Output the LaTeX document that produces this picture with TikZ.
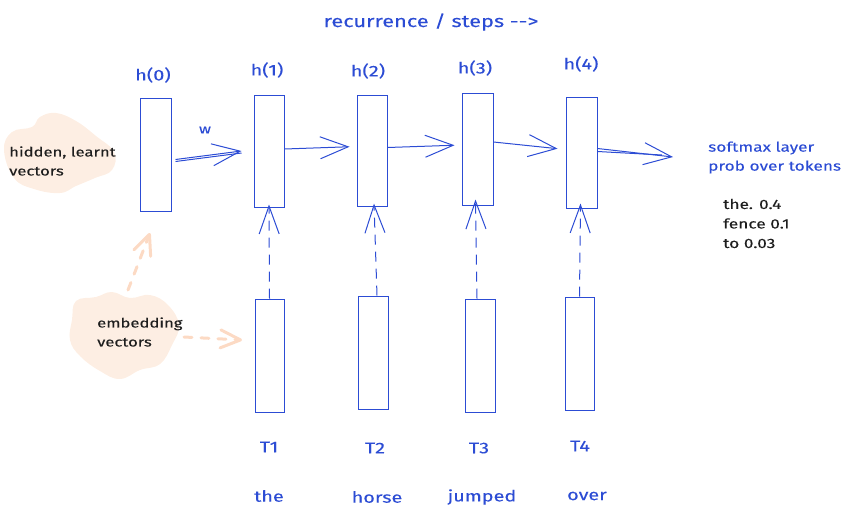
\documentclass[tikz,border=0pt]{standalone}
\usepackage{fontspec}
\setmainfont[FakeStretch=1.28,FakeBold=0.15]{Fira Sans}
\usetikzlibrary{arrows.meta}
\definecolor{sblue}{RGB}{44,76,212}
\definecolor{ink}{RGB}{30,30,30}
\definecolor{peach}{RGB}{253,238,227}
\definecolor{peachline}{RGB}{252,218,196}
\tikzset{
  vecbox/.style={draw=sblue, line width=1pt, minimum width=30pt, minimum height=112pt, inner sep=0pt},
  bluetxt/.style={text=sblue, font=\fontsize{15.5}{18}\selectfont, inner sep=0pt},
  smalltxt/.style={font=\fontsize{13}{19}\selectfont, inner sep=0pt, align=left, anchor=west},
  barb/.style={-{Straight Barb[length=28pt,width=22pt,line width=1pt]}},
  recarrow/.style={draw=sblue, line width=1pt, barb},
  inarrow/.style={draw=sblue, line width=1pt, dash pattern=on 10pt off 7pt, -{Straight Barb[length=28pt,width=20pt,line width=1pt,sep=0pt]}},
  peacharrow/.style={draw=peachline, line width=3pt, line cap=round, dash pattern=on 8pt off 9pt, -{Straight Barb[length=20pt,width=18pt,line width=3pt,round]}},
  blob/.style={fill=peach, draw=none}
}
\begin{document}
\begin{tikzpicture}[x=1pt,y=-1pt]
\useasboundingbox (0,0) rectangle (849,520);
% blobs
\fill[blob] plot[smooth cycle, tension=0.7] coordinates {(4,150) (12,132) (32,127) (40,117) (56,113) (76,121) (96,136) (114,152) (112,170) (95,178) (76,186) (60,193) (34,189) (14,178)};
\fill[blob] plot[smooth cycle, tension=0.7] coordinates {(72,320) (76,301) (96,297) (112,292) (130,298) (150,295) (168,305) (179,325) (172,345) (160,364) (140,370) (120,379) (100,371) (80,356) (70,340)};

% title
\node[bluetxt, font=\fontsize{17}{19}\selectfont] (title) at (431,22) {recurrence / steps -{}->};

% hidden boxes
\node[vecbox, minimum width=31pt, minimum height=113pt] (h0) at (155.5,154.5) {};
\node[vecbox] (h1) at (269,151) {};
\node[vecbox, minimum height=111pt] (h2) at (372,150.5) {};
\node[vecbox, minimum width=31pt] (h3) at (477.5,149) {};
\node[vecbox, minimum width=31pt, minimum height=111pt] (h4) at (581.5,152.5) {};

\node[bluetxt] (lh0) at (153,75) {h(0)};
\node[bluetxt] (lh1) at (267,70) {h(1)};
\node[bluetxt] (lh2) at (368,71) {h(2)};
\node[bluetxt] (lh3) at (475,68) {h(3)};
\node[bluetxt] (lh4) at (581,64) {h(4)};

% token boxes
\node[vecbox, minimum width=29pt, minimum height=113pt] (t1) at (269.5,355.5) {};
\node[vecbox, minimum height=113pt] (t2) at (373,352.5) {};
\node[vecbox, minimum height=113pt] (t3) at (480,355.5) {};
\node[vecbox, minimum width=29pt, minimum height=113pt] (t4) at (579.5,353.5) {};

\node[bluetxt] (lt1) at (269,447) {T1};
\node[bluetxt] (lt2) at (375,448) {T2};
\node[bluetxt] (lt3) at (479,448) {T3};
\node[bluetxt] (lt4) at (580,446) {T4};

\node[bluetxt] (w1) at (269,496) {the};
\node[bluetxt] (w2) at (377,497) {horse};
\node[bluetxt] (w3) at (482,497) {jumped};
\node[bluetxt] (w4) at (587,496) {over};

% recurrence arrows
\draw[draw=sblue, line width=1pt] ([xshift=4pt,yshift=-7pt]h0.east) -- ([xshift=-12pt,yshift=-2pt]h1.west);
\draw[recarrow] ([xshift=4pt,yshift=-5pt]h0.east) -- ([xshift=-12pt,yshift=0pt]h1.west);
\node[bluetxt, font=\fontsize{13}{15}\selectfont] (wlab) at (205,130) {w};
\draw[recarrow, shorten >=7pt] ([yshift=2pt]h1.east) -- ([yshift=4pt]h2.west);
\draw[recarrow, shorten >=7pt] ([yshift=3pt]h2.east) -- ([yshift=4pt]h3.west);
\draw[recarrow, shorten >=8pt] ([yshift=7pt]h3.east) -- ([yshift=3pt]h4.west);
\coordinate (out) at (673,157);
\coordinate (out2) at (662,155);
\draw[draw=sblue, line width=1pt] ([yshift=1pt]h4.east) -- (out2);
\draw[recarrow] ([yshift=4pt]h4.east) -- (out);

% input arrows
\draw[inarrow] (t1.north) -- ([yshift=3pt]h1.south);
\draw[inarrow] ([xshift=4pt]t2.north) -- ([xshift=2pt,yshift=3pt]h2.south);
\draw[inarrow] ([xshift=-3pt]t3.north) -- ([xshift=-2pt,yshift=6pt]h3.south);
\draw[inarrow] ([xshift=0pt]t4.north) -- ([xshift=-1pt,yshift=5pt]h4.south);

% side texts
\node[smalltxt, text=ink] (hid) at (9,161) {hidden, learnt\\vectors};
\node[smalltxt, text=ink] (emb) at (97,332) {embedding\\vectors};
\node[smalltxt, text=sblue, font=\fontsize{13.5}{19}\selectfont] (soft) at (708,157.5) {softmax layer\\prob over tokens};
\node[smalltxt, text=ink, font=\fontsize{13.5}{19.5}\selectfont] (probs) at (723,223.5) {the. 0.4\\fence 0.1\\to 0.03};

% embedding arrows
\coordinate (e1) at (128,290);
\coordinate (e1t) at (150,233);
\coordinate (e2) at (184,337);
\coordinate (e2t) at (242,340);
\draw[peacharrow] (e1) -- (e1t);
\draw[peacharrow] (e2) -- (e2t);
\end{tikzpicture}
\end{document}
